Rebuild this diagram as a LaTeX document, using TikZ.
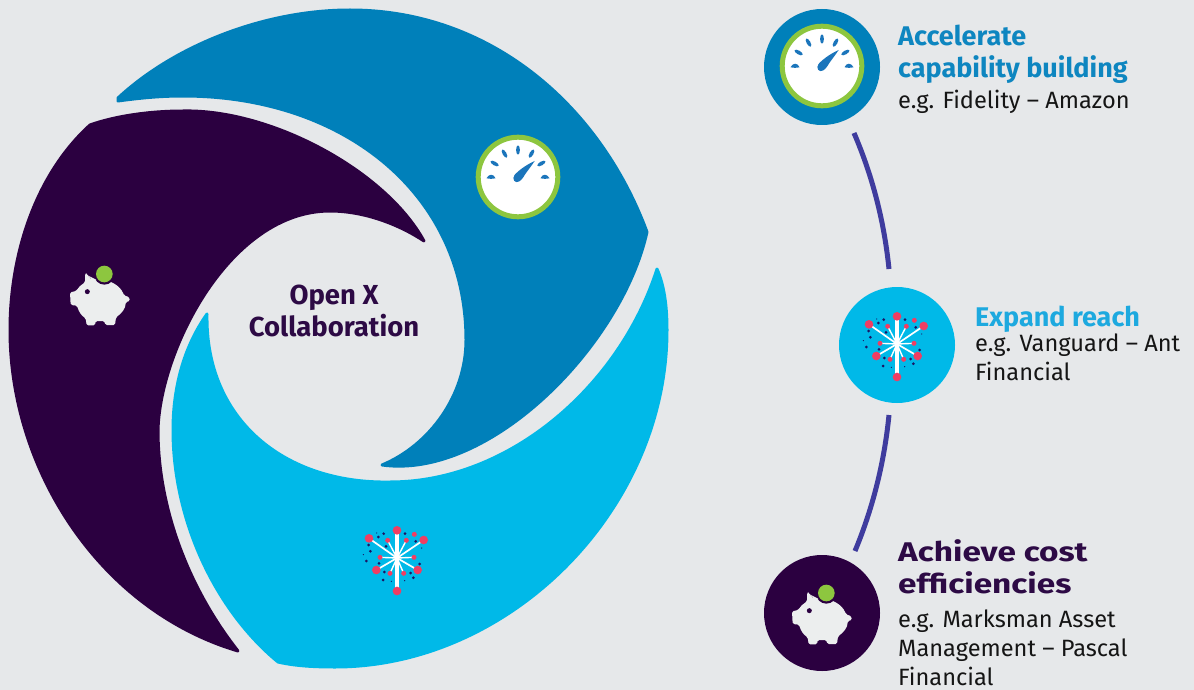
\documentclass[tikz,border=0pt]{standalone}
\usepackage{fontspec}
\setmainfont{Fira Sans}
\definecolor{bgc}{HTML}{E6E8EA}
\definecolor{dblue}{HTML}{0080BA}
\definecolor{lblue}{HTML}{00B9E8}
\definecolor{purp}{HTML}{2B0040}
\definecolor{grn}{HTML}{8DC63F}
\definecolor{needle}{HTML}{1B75BB}
\definecolor{pink}{HTML}{EF3E63}
\definecolor{navy}{HTML}{1B1464}
\definecolor{pigw}{HTML}{ECEEEE}
\definecolor{arcc}{HTML}{3F3C9E}
\definecolor{tpurp}{HTML}{2D0A45}
\definecolor{tblue}{HTML}{0E86C0}
\definecolor{tlblue}{HTML}{1DA9DF}
\definecolor{tbody}{HTML}{151515}
\tikzset{
  x=1pt,y=-1pt,
  swirl/.style={line width=3pt,line join=round},
  link/.style={draw=arcc,line width=5pt},
  disc/.style={circle,inner sep=0pt,minimum size=116pt},
  head/.style={anchor=north west,inner sep=0pt,align=left,font=\fontsize{27}{32}\selectfont\bfseries},
  body/.style={anchor=north west,inner sep=0pt,align=left,text=tbody,font=\fontsize{23.6}{29}\selectfont},
  gauge/.pic={
    \fill[white] (0,0) circle (40);
    \draw[grn,line width=5pt] (0,0) circle (39.8);
    \foreach \a in {30,60,90,120,150}{
      \fill[needle,rotate=\a] (27,0) ellipse (4.6 and 1.9);
    }
    \foreach \s in {1,-1}{
      \fill[needle] (\s*22.5,1.2) .. controls (\s*24.5,-3.4) and (\s*29,-3.4) .. (\s*31.5,1.2) .. controls (\s*29,2) and (\s*25,2) .. (\s*22.5,1.2) -- cycle;
    }
    \fill[needle] (16.7,-16) .. controls (10,-13) and (2,-8) .. (-3.5,-2) .. controls (-6.5,2) and (-3,7) .. (1,4.5) .. controls (4,3) and (6,-1) .. (8,-4) .. controls (11,-8) and (14,-12) .. (16.7,-16) -- cycle;
  },
  fwork/.pic={
    \begin{scope}[scale=1/3]
    \foreach \x/\y in {-84/-59,80/-54,-62/36,62/36}{\draw[white,line width=1.7pt] (0,0) -- (\x,\y);}
    \foreach \x/\y in {-28/-53,28/-53,-51/-2,51/-2,-21/46,20/46}{\draw[white,line width=1.4pt] (0,0) -- (\x,\y);}
    \draw[white,line width=3.2pt] (0,-83) -- (0,99);
    \foreach \x/\y in {0/-83,-84/-59,80/-54,-62/36,62/36,0/99}{\fill[pink] (\x,\y) circle (13);}
    \foreach \x/\y in {52/-71,-28/-53,28/-53,-51/-2,51/-2,-21/46,20/46}{\fill[pink] (\x,\y) circle (7.5);}
    \foreach \x/\y in {-40/-73,-56/-63,-85/-39,-80/-20,-92/9,-54/16,-33/-35,-38/42,-42/66,24/-73,56/-50,68/18,49/59,41/45}{\fill[navy] (\x,\y) circle (4.5);}
    \foreach \x/\y in {-17/70,23/68,-61/-75,-101/-10,74/-30}{\fill[navy] (\x,\y) circle (2);}
    \end{scope}
  },
  pigicon/.pic={
    \begin{scope}[scale=1/3]
    \fill[pigw,rounded corners=1.5pt] (91,52) -- (110,74) .. controls (140,70) and (190,78) .. (208,122) -- (223,126) -- (224,139) -- (212,141) .. controls (212,160) and (200,175) .. (183,187) -- (180,210) -- (151,210) -- (148,198) -- (122,198) -- (120,211) -- (95,211) -- (92,190) .. controls (80,182) and (72,172) .. (66,152) -- (47,150) -- (45,112) -- (64,108) .. controls (70,97) and (78,90) .. (90,82) -- cycle;
    \fill[purp] (148,58) circle (31);
    \fill[pigw] (100,62) -- (112,75) -- (124,74) -- cycle;
    \fill[grn] (148,57) circle (25);
    \fill[purp] (97,110) circle (7.5);
    \end{scope}
  }
}
\begin{document}
\begin{tikzpicture}
\useasboundingbox (0,0) rectangle (1194,690);
\fill[bgc] (0,0) rectangle (1194,690);
% swirl
\path[fill=dblue,draw=dblue,swirl] (118,98) .. controls (175,45) and (265,10) .. (350,10) .. controls (490,10) and (600,105) .. (647,232) .. controls (622,345) and (490,480) .. (382,465) .. controls (430,445) and (466,395) .. (466,340) .. controls (466,195) and (345,96) .. (183,96) .. controls (160,96) and (140,98) .. (118,101) -- cycle;
\path[fill=purp,draw=purp,swirl] (90,125) .. controls (35,175) and (10,255) .. (10,330) .. controls (10,470) and (100,610) .. (238,651) .. controls (190,590) and (158,510) .. (158,430) .. controls (160,350) and (230,211) .. (330,211) .. controls (365,211) and (400,225) .. (424,241) .. controls (385,170) and (270,109) .. (183,111) .. controls (150,111) and (115,116) .. (90,125) -- cycle;
\path[fill=lblue,draw=lblue,swirl] (657,269) .. controls (664,285) and (667,305) .. (667,330) .. controls (667,510) and (510,667) .. (335,667) .. controls (315,667) and (295,666) .. (278,662) .. controls (215,610) and (173,520) .. (173,430) .. controls (173,385) and (185,345) .. (207,314) .. controls (205,420) and (285,484) .. (390,482) .. controls (510,482) and (620,385) .. (657,269) -- cycle;
\pic at (518,177) {gauge};
\pic at (397,558) {fwork};
\pic[shift={(55,255)}] at (0,0) {pigicon};
\node[font=\fontsize{27.5}{32}\selectfont\bfseries,text=tpurp,align=center,inner sep=0pt] (center) at (334,311) {Open X\\Collaboration};
% right column
\node[disc,fill=dblue] (a) at (822,67) {};
\pic at (822,66) {gauge};
\node[disc,fill=lblue] (b) at (897,345) {};
\pic at (897,344) {fwork};
\node[disc,fill=purp] (c) at (822,613) {};
\pic[shift={(777,574)}] at (0,0) {pigicon};
\coordinate (a1) at (854,133);
\coordinate (b1) at (889,269);
\coordinate (b2) at (889,415);
\coordinate (c1) at (855,551);
\draw[link] (a1) .. controls (872,175) and (884,220) .. (b1);
\draw[link] (b2) .. controls (884,465) and (872,510) .. (c1);
\node[head,text=tblue] (t1) at (898,25) {Accelerate\\capability building};
\node[body] (t1b) at (898,90) {e.g. Fidelity – Amazon};
\node[head,text=tlblue] (t2) at (975,306) {Expand reach};
\node[body] (t2b) at (975,334) {e.g. Vanguard – Ant\\Financial};
\node[head,text=tpurp] (t3) at (898,539) {\scalebox{1.235}[1]{Achieve cost}\\\scalebox{1.235}[1]{efficiencies}};
\node[body] (t3b) at (898,610) {e.g. Marksman Asset\\Management – Pascal\\Financial};
\end{tikzpicture}
\end{document}
